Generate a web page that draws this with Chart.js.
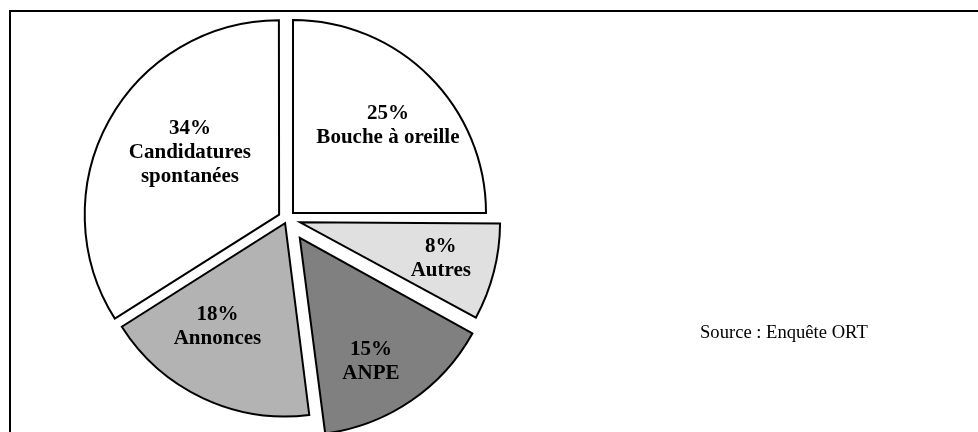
<!DOCTYPE html>
<html>
<head>
<meta charset="utf-8">
<script src="https://cdn.jsdelivr.net/npm/chart.js@4/dist/chart.umd.min.js"></script>
<style>
html,body{margin:0;padding:0;background:#fff;overflow:hidden;}
#wrap{position:relative;width:978px;height:432px;}
#frame{position:absolute;left:9px;top:10px;width:990px;height:440px;border:2px solid #000;box-sizing:border-box;}
#src{position:absolute;left:700px;top:321px;font-family:"Liberation Serif","Times New Roman",serif;font-size:18.6px;color:#000;white-space:nowrap;}
canvas{position:absolute;left:0;top:0;}
</style>
</head>
<body>
<div id="wrap">
<div id="frame"></div>
<canvas id="pie" width="978" height="432"></canvas>
<div id="src">Source : Enquête ORT</div>
</div>
<script>
// slices, clockwise from the top
var labels = ['Bouche à oreille', 'Autres', 'ANPE', 'Annonces', 'Candidatures spontanées'];
var percents = [25, 8, 15, 18, 34];
var labelLines = [['25%', 'Bouche à oreille'], ['8%', 'Autres'], ['15%', 'ANPE'], ['18%', 'Annonces'], ['34%', 'Candidatures', 'spontanées']];

var fills = ['#ffffff', '#e0e0e0', '#808080', '#b3b3b3', '#ffffff'];
var explode = [34, 54, 91, 18, 36];
// where the text sits inside each slice (fraction of radius, degrees off the bisector)
var labelRad = [0.667, 0.753, 0.739, 0.64, 0.563];
var labelTurn = [2.5, 0, 4.3, 8, 6];

var sliceLabels = {
	id: 'sliceLabels',
	afterDatasetsDraw: function(chart){
		var ctx = chart.ctx;
		var arcs = chart.getDatasetMeta(0).data;
		ctx.save();
		ctx.font = 'bold 21px "Liberation Serif", "Times New Roman", serif';
		ctx.fillStyle = '#000';
		ctx.textAlign = 'center';
		ctx.textBaseline = 'middle';
		arcs.forEach(function(arc, i){
			var p = arc.getProps(['x', 'y', 'startAngle', 'endAngle', 'outerRadius']);
			var mid = (p.startAngle + p.endAngle) / 2;
			var shift = explode[i] / 4;
			var ox = p.x + Math.cos(mid) * shift, oy = p.y + Math.sin(mid) * shift;
			var a = mid + labelTurn[i] * Math.PI / 180;
			var r = p.outerRadius * labelRad[i];
			var cx = ox + Math.cos(a) * r, cy = oy + Math.sin(a) * r;
			var lines = labelLines[i];
			var lh = 24;
			var top = cy - (lines.length - 1) * lh / 2;
			lines.forEach(function(t, k){
				ctx.fillText(t, cx, top + k * lh);
			});
		});
		ctx.restore();
	}
};

var ctx = document.getElementById('pie').getContext('2d');
new Chart(ctx, {
	type: 'pie',
	data: {
		labels: labels,
		datasets: [{
			data: percents,
			backgroundColor: fills,
			borderColor: '#000',
			borderWidth: 2,
			borderJoinStyle: 'miter',
			offset: explode,
			hoverOffset: 0
		}]
	},
	options: {
		responsive: false,
		animation: false,
		radius: 193,
		layout: {padding: {left: 0, right: 404, top: 6, bottom: 0}},
		plugins: {
			legend: {display: false},
			tooltip: {enabled: false}
		}
	},
	plugins: [sliceLabels]
});
</script>
</body>
</html>
